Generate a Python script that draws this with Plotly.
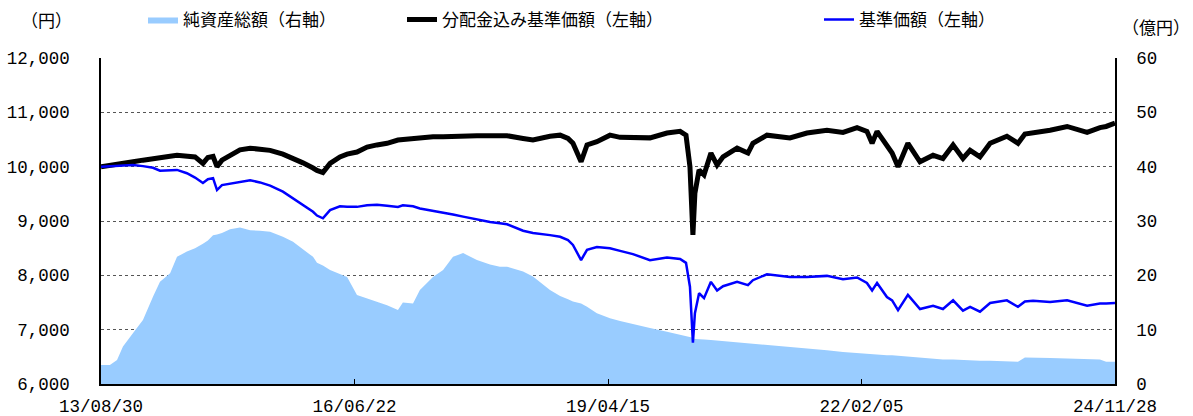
import pandas as pd
import plotly.graph_objects as go

# ---- data ----
start_date = "2013-08-30"
day_offsets = [0, 36, 65, 89, 130, 170, 211, 239, 280, 308, 348, 381, 413, 433, 454, 470, 490, 523, 563, 604,
               644, 685, 737, 778, 818, 859, 875, 899, 928, 968, 997, 1037, 1078, 1118, 1159, 1203, 1223, 1264, 1292, 1345,
               1386, 1426, 1467, 1523, 1576, 1616, 1645, 1710, 1750, 1819, 1860, 1892, 1912, 1945, 1969, 2009, 2062, 2103, 2155, 2224,
               2293, 2346, 2370, 2386, 2398, 2406, 2423, 2443, 2471, 2496, 2520, 2577, 2621, 2641, 2698, 2791, 2860, 2941, 3006, 3063,
               3103, 3124, 3144, 3184, 3205, 3229, 3269, 3318, 3371, 3411, 3452, 3492, 3521, 3561, 3602, 3670, 3715, 3743, 3776, 3845,
               3914, 3995, 4047, 4072, 4108]

nav_with_dist = [10000, 10020, 10050, 10070, 10090, 10120, 10140, 10150, 10190, 10210, 10200, 10180, 10060, 10170, 10190, 10000, 10120, 10200, 10310, 10340,
                 10320, 10300, 10230, 10160, 10070, 9975, 9930, 9890, 10060, 10180, 10230, 10270, 10360, 10400, 10430, 10490, 10500, 10510, 10520, 10550,
                 10550, 10560, 10560, 10570, 10570, 10580, 10570, 10520, 10490, 10560, 10580, 10520, 10430, 10090, 10400, 10460, 10580, 10540, 10530, 10530,
                 10620, 10650, 10580, 10000, 8745, 9510, 9940, 9850, 10250, 10030, 10180, 10340, 10250, 10430, 10580, 10530, 10620, 10670, 10630, 10720,
                 10650, 10430, 10650, 10370, 10250, 10000, 10430, 10090, 10210, 10150, 10400, 10150, 10300, 10180, 10430, 10560, 10430, 10600, 10620, 10670,
                 10740, 10630, 10720, 10740, 10800]

nav = [10000, 10010, 10020, 10030, 10030, 10010, 9980, 9925, 9930, 9940, 9880, 9800, 9700, 9770, 9790, 9570, 9660, 9690, 9720, 9750,
       9710, 9650, 9540, 9420, 9300, 9170, 9100, 9050, 9200, 9270, 9260, 9260, 9290, 9300, 9280, 9260, 9290, 9270, 9230, 9190,
       9160, 9120, 9080, 9030, 8980, 8960, 8940, 8820, 8780, 8740, 8710, 8650, 8560, 8280, 8470, 8520, 8500, 8450, 8390, 8280,
       8330, 8300, 8230, 7790, 6760, 7300, 7670, 7580, 7880, 7720, 7800, 7880, 7820, 7910, 8020, 7970, 7970, 7990, 7930, 7960,
       7860, 7720, 7860, 7600, 7540, 7360, 7640, 7380, 7440, 7380, 7540, 7350, 7420, 7330, 7490, 7540, 7420, 7520, 7530, 7510,
       7540, 7440, 7480, 7480, 7490]

net_assets = [3.5, 3.5, 4.4, 6.9, 9.4, 11.8, 16.1, 18.8, 20.4, 23.4, 24.4, 25.0, 25.8, 26.4, 27.4, 27.5, 27.8, 28.5, 28.8, 28.3,
              28.2, 28.0, 27.1, 26.2, 24.8, 23.4, 22.3, 21.8, 21.0, 20.3, 19.7, 16.4, 15.8, 15.1, 14.5, 13.6, 15.0, 14.8, 17.3, 19.7,
              21.0, 23.4, 24.1, 22.8, 22.0, 21.6, 21.6, 20.7, 19.8, 17.3, 16.2, 15.6, 15.2, 14.8, 14.2, 13.0, 12.1, 11.6, 11.0, 10.3,
              9.6, 9.1, 8.9, 8.7, 8.5, 8.3, 8.2, 8.2, 8.1, 8.0, 8.0, 7.7, 7.5, 7.4, 7.2, 6.9, 6.6, 6.2, 5.9, 5.7,
              5.5, 5.5, 5.4, 5.3, 5.3, 5.2, 5.0, 4.8, 4.6, 4.5, 4.5, 4.4, 4.4, 4.3, 4.3, 4.2, 4.1, 4.9, 4.9, 4.8,
              4.7, 4.6, 4.5, 4.1, 4.1]

x_tick_dates = ["2013-08-30", "2016-06-22", "2019-04-15", "2022-02-05", "2024-11-28"]
x_tick_labels = ["13/08/30", "16/06/22", "19/04/15", "22/02/05", "24/11/28"]
left_ticks = [6000, 7000, 8000, 9000, 10000, 11000, 12000]
left_tick_labels = ["6,000", "7,000", "8,000", "9,000", "10,000", "11,000", "12,000"]
right_ticks = [0, 10, 20, 30, 40, 50, 60]

names = ["純資産総額（右軸）", "分配金込み基準価額（左軸）", "基準価額（左軸）"]

dates = pd.Timestamp(start_date) + pd.to_timedelta(day_offsets, unit="D")

NUM_FONT = dict(family="Liberation Mono, DejaVu Sans Mono, monospace", size=17.5, color="#000")
JP_FONT = dict(family="Noto Sans CJK JP", size=17, color="#000")

fig = go.Figure()
fig.add_trace(go.Scatter(x=dates, y=net_assets, name=names[0], mode="lines",
                         fill="tozeroy", fillcolor="#99CCFF", line=dict(width=0, color="#99CCFF"),
                         yaxis="y", legend="legend"))
fig.add_trace(go.Scatter(x=dates, y=nav_with_dist, name=names[1], mode="lines",
                         line=dict(color="#000000", width=5), yaxis="y2", legend="legend2"))
fig.add_trace(go.Scatter(x=dates, y=nav, name=names[2], mode="lines",
                         line=dict(color="#0000FF", width=2.5), yaxis="y2", legend="legend3"))

leg_common = dict(orientation="h", yanchor="middle", xanchor="left", y=1.117,
                  font=JP_FONT, bgcolor="rgba(0,0,0,0)", itemwidth=30)
fig.update_layout(
    width=1193, height=416,
    margin=dict(l=101, r=78, t=58, b=32, autoexpand=False),
    paper_bgcolor="white", plot_bgcolor="white",
    showlegend=True,
    legend=dict(x=(143 - 101) / 1014, **leg_common),
    legend2=dict(x=(402 - 101) / 1014, **leg_common),
    legend3=dict(x=(819 - 101) / 1014, **leg_common),
    xaxis=dict(type="date", range=[x_tick_dates[0], x_tick_dates[-1]],
               tickvals=x_tick_dates, ticktext=x_tick_labels,
               ticks="inside", ticklen=5, tickcolor="#000", tickwidth=1,
               showline=True, linecolor="#000", linewidth=1.5,
               showgrid=False, zeroline=False, tickfont=NUM_FONT,
               ticklabelstandoff=5),
    yaxis=dict(side="right", range=[0, 60], tickvals=right_ticks,
               showline=True, linecolor="#000", linewidth=1.5,
               showgrid=True, gridcolor="#555", griddash="dot", gridwidth=1,
               zeroline=False, ticks="", tickfont=NUM_FONT, ticklabelstandoff=16),
    yaxis2=dict(side="left", overlaying="y", range=[6000, 12000],
                tickvals=left_ticks, ticktext=left_tick_labels,
                showline=True, linecolor="#000", linewidth=1.5,
                showgrid=False, zeroline=False, ticks="", tickfont=NUM_FONT,
                ticklabelstandoff=26),
    annotations=[
        dict(text="（円）", xref="paper", yref="paper", x=(46 - 101) / 1014, y=1.117,
             xanchor="center", yanchor="middle", showarrow=False, font=JP_FONT),
        dict(text="（億円）", xref="paper", yref="paper", x=(1192 - 101) / 1014, y=1.098,
             xanchor="right", yanchor="middle", showarrow=False, font=JP_FONT),
    ],
)

fig.write_html(
    "out.html",
    config={"displayModeBar": False},
    post_script="document.documentElement.style.margin='0';document.body.style.margin='0';"
                "document.body.style.padding='0';document.body.style.overflow='hidden';",
)
